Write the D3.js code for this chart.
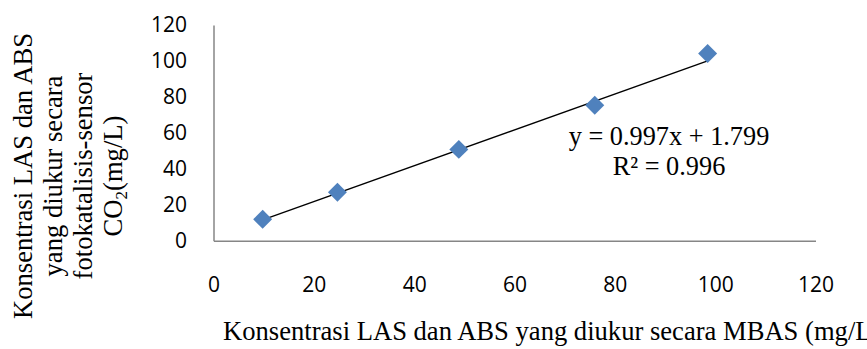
<!DOCTYPE html>
<html>
<head>
<meta charset="utf-8">
<script src="https://cdn.jsdelivr.net/npm/d3@7"></script>
<style>
  body { margin: 0; background: #fff; }
  svg { display: block; }
</style>
</head>
<body>
<div id="chart"></div>
<script>
// data
const mbas = [9.8, 24.7, 48.9, 76.0, 98.5];
const sensor = [11.9, 26.9, 50.8, 75.3, 104.2];
const xTicks = [0, 20, 40, 60, 80, 100, 120];
const yTicks = [0, 20, 40, 60, 80, 100, 120];
const slope = 0.997,
  intercept = 1.799,
  rSquared = 0.996;
const yTitleLines = ["Konsentrasi LAS dan ABS", "yang diukur secara", "fotokatalisis-sensor"];
const xTitle = "Konsentrasi LAS dan ABS yang diukur secara MBAS (mg/L)";

const chartW = 867,
  chartH = 349,
  plotLeft = 213.5,
  plotRight = 815.5,
  plotTop = 25,
  plotBottom = 240.7,
  axisColor = "#868686",
  pointColor = "#4F81BD",
  serif = "'Liberation Serif', 'Times New Roman', serif",
  sans = "'Open Sans', sans-serif";

const svg = d3.select("#chart").append("svg").attr("width", chartW).attr("height", chartH);

const x = d3.scaleLinear().domain([0, 120]).range([plotLeft, plotRight]);
const y = d3.scaleLinear().domain([0, 120]).range([plotBottom, plotTop]);

// axes
let yAxis = svg
  .append("g")
  .attr("transform", `translate(${plotLeft},0)`)
  .call(d3.axisLeft(y).tickValues(yTicks).tickSize(0).tickPadding(26.5));
let xAxis = svg
  .append("g")
  .attr("transform", `translate(0,${plotBottom})`)
  .call(d3.axisBottom(x).tickValues(xTicks).tickSize(0).tickPadding(36));
[xAxis, yAxis].forEach((g) => {
  g.select(".domain").attr("stroke", axisColor).attr("stroke-width", 1.5);
  g.selectAll("text").attr("font-family", sans).attr("font-size", 21).attr("fill", "#000");
});

// trend line
const x0 = d3.min(mbas),
  x1 = d3.max(mbas);
svg
  .append("line")
  .attr("x1", x(x0))
  .attr("y1", y(slope * x0 + intercept))
  .attr("x2", x(x1))
  .attr("y2", y(slope * x1 + intercept))
  .attr("stroke", "#000")
  .attr("stroke-width", 1.4);

// points
const pts = mbas.map((d, i) => [d, sensor[i]]);
svg
  .append("g")
  .selectAll("path")
  .data(pts)
  .enter()
  .append("path")
  .attr("d", d3.symbol(d3.symbolSquare, 180))
  .attr("transform", (d) => `translate(${x(d[0])},${y(d[1])}) rotate(45)`)
  .attr("fill", pointColor);

// equation
let eq = svg.append("g").attr("font-family", serif).attr("font-size", 26.3).attr("text-anchor", "middle");
eq.append("text").attr("x", 669).attr("y", 145).text(`y = ${slope}x + ${intercept}`);
eq.append("text").attr("x", 669).attr("y", 175).text(`R² = ${rSquared}`);

// y title
let yTitle = svg
  .append("g")
  .attr("font-family", serif)
  .attr("font-size", 26.6)
  .attr("text-anchor", "middle")
  .attr("transform", "translate(0,176) rotate(-90)");
yTitleLines.forEach((t, i) => {
  yTitle.append("text").attr("x", 0).attr("y", 32 + i * 30).text(t);
});
let co2 = yTitle.append("text").attr("x", 0).attr("y", 122);
co2.append("tspan").text("CO");
co2.append("tspan").attr("font-size", 17).attr("dy", 5).text("2");
co2.append("tspan").attr("dy", -5).text("(mg/L)");

// x title
svg
  .append("text")
  .attr("x", 223)
  .attr("y", 340)
  .attr("font-family", serif)
  .attr("font-size", 26.6)
  .text(xTitle);
</script>
</body>
</html>
